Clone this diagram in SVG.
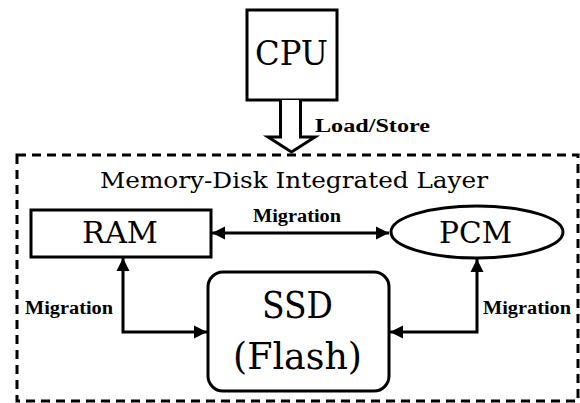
<svg xmlns="http://www.w3.org/2000/svg" width="580" height="403" viewBox="0 0 580 403">
<defs>
<style>
.box{fill:#fff;stroke:#000;stroke-width:3}
.big{font-family:"DejaVu Serif","Liberation Serif",serif;fill:#000}
.lbl{font-family:"Liberation Serif","DejaVu Serif",serif;font-weight:bold;font-size:18px;fill:#000}
.wire{fill:none;stroke:#000;stroke-width:3}
</style>
<marker id="ah" viewBox="0 0 10 10" refX="10" refY="5" markerWidth="4.4" markerHeight="4.4" markerUnits="strokeWidth" orient="auto-start-reverse">
<path d="M0,0 L10,5 L0,10 Z" fill="#000"/>
</marker>
</defs>
<rect width="580" height="403" fill="#fff"/>
<g id="layer">
<rect x="17" y="155" width="561" height="246" fill="none" stroke="#000" stroke-width="3" stroke-dasharray="9,6"/>
<text class="big" x="100" y="188" font-size="22" textLength="388" lengthAdjust="spacingAndGlyphs">Memory-Disk Integrated Layer</text>
</g>
<g id="cpu">
<rect class="box" x="247" y="10" width="90" height="90"/>
<text class="big" x="255" y="65" font-size="34" textLength="73" lengthAdjust="spacingAndGlyphs">CPU</text>
</g>
<g id="ram">
<rect class="box" x="31" y="210" width="180" height="47"/>
<text class="big" x="82" y="243" font-size="29" textLength="76" lengthAdjust="spacingAndGlyphs">RAM</text>
</g>
<g id="pcm">
<ellipse class="box" cx="477" cy="232" rx="86" ry="26"/>
<text class="big" x="439" y="243" font-size="29" textLength="73" lengthAdjust="spacingAndGlyphs">PCM</text>
</g>
<g id="ssd">
<rect class="box" x="208" y="272" width="181" height="119" rx="15" ry="15"/>
<text class="big" x="262" y="318" font-size="38" textLength="71" lengthAdjust="spacingAndGlyphs">SSD</text>
<text class="big" x="233" y="369" font-size="38" textLength="129" lengthAdjust="spacingAndGlyphs">(Flash)</text>
</g>
<g id="connectors">
<path d="M280.5,100 V137 H268 L291.5,152 L315,137 H300.5 V100" fill="#fff" stroke="#000" stroke-width="3" stroke-linejoin="miter"/>
<text class="lbl" x="315" y="132" font-size="19" textLength="115" lengthAdjust="spacingAndGlyphs">Load/Store</text>
<path class="wire" d="M212,233 H389" marker-start="url(#ah)" marker-end="url(#ah)"/>
<text class="lbl" x="253" y="222" textLength="88" lengthAdjust="spacingAndGlyphs">Migration</text>
<path class="wire" d="M123,258 V332 H207" marker-start="url(#ah)" marker-end="url(#ah)"/>
<text class="lbl" x="25" y="314" textLength="88" lengthAdjust="spacingAndGlyphs">Migration</text>
<path class="wire" d="M477,259 V332 H390" marker-start="url(#ah)" marker-end="url(#ah)"/>
<text class="lbl" x="483" y="314" textLength="88" lengthAdjust="spacingAndGlyphs">Migration</text>
</g>
</svg>
